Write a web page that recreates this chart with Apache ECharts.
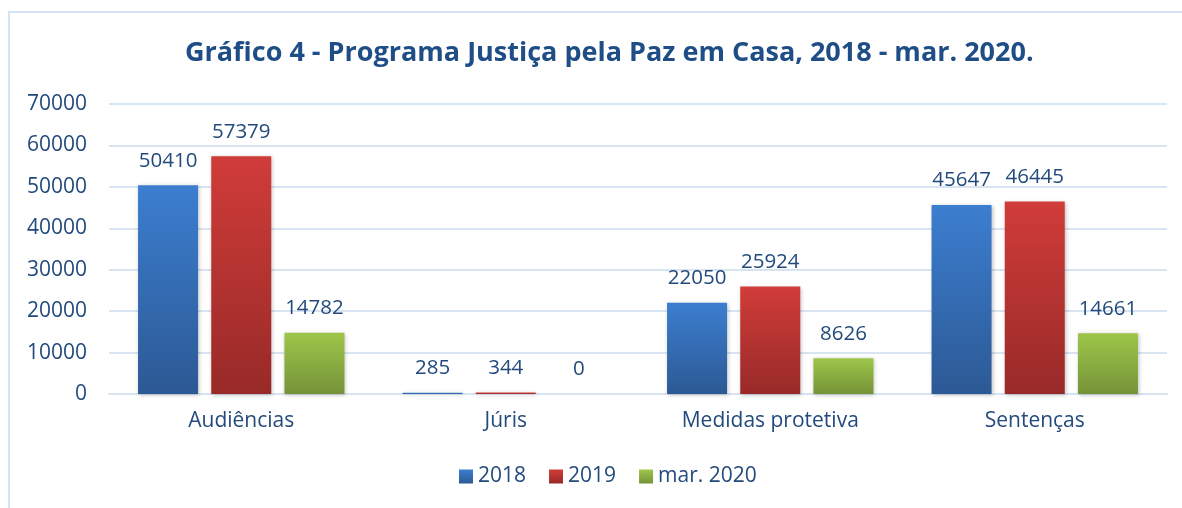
<!DOCTYPE html>
<html>
<head>
<meta charset="utf-8">
<script src="https://cdn.jsdelivr.net/npm/echarts@6/dist/echarts.min.js"></script>
<style>
  html, body { margin: 0; padding: 0; background: #fff; }
  #chart { width: 1182px; height: 508px; }
</style>
</head>
<body>
<div id="chart"></div>
<script>
const categories = ["Audiências", "Júris", "Medidas protetiva", "Sentenças"];
const seriesNames = ["2018", "2019", "mar. 2020"];
const values2018 = [50410, 285, 22050, 45647];
const values2019 = [57379, 344, 25924, 46445];
const valuesMar2020 = [14782, 0, 8626, 14661];

const textColor = "#234A7C";
const fontFamily = "'Open Sans', sans-serif";

function grad(top, bottom) {
  return new echarts.graphic.LinearGradient(0, 0, 0, 1, [
    { offset: 0, color: top },
    { offset: 1, color: bottom },
  ]);
}

const colors = [
  grad("#3C7ED0", "#2C5994"),
  grad("#D03C39", "#982A28"),
  grad("#9EC64A", "#759338"),
];

function makeSeries(name, data, color) {
  return {
    name: name,
    type: "bar",
    data: data,
    barWidth: 60,
    barGap: "22%",
    itemStyle: {
      color: color,
      shadowBlur: 4,
      shadowColor: "rgba(0,0,0,0.25)",
      shadowOffsetX: 1,
      shadowOffsetY: 1,
    },
    label: {
      show: true,
      position: "top",
      distance: 14,
      color: textColor,
      fontSize: 20.5,
      fontFamily: fontFamily,
    },
  };
}

const chart = echarts.init(document.getElementById("chart"));
chart.setOption({
  animation: false,
  backgroundColor: "#fff",
  color: colors,
  graphic: [
    {
      type: "rect",
      shape: { x: 9, y: 12, width: 1200, height: 520 },
      style: { fill: "none", stroke: "#D5E3F4", lineWidth: 2 },
      silent: true,
    },
  ],
  title: {
    text: "Gráfico 4 - Programa Justiça pela Paz em Casa, 2018 - mar. 2020.",
    left: 180,
    top: 35,
    textStyle: {
      color: "#1F4E86",
      fontSize: 27,
      fontWeight: "bold",
      fontFamily: fontFamily,
    },
  },
  legend: {
    bottom: 16,
    left: 454,
    itemWidth: 14,
    itemHeight: 14,
    itemGap: 23,
    icon: "rect",
    textStyle: { color: textColor, fontSize: 21, fontFamily: fontFamily },
    data: seriesNames,
  },
  grid: { left: 109, right: 15, top: 104, bottom: 114 },
  xAxis: {
    type: "category",
    data: categories,
    axisLine: { lineStyle: { color: "#D9E4F2", width: 2 } },
    axisTick: { show: false },
    axisLabel: {
      color: textColor,
      fontSize: 21,
      fontFamily: fontFamily,
      margin: 17,
    },
  },
  yAxis: {
    type: "value",
    min: 0,
    max: 70000,
    interval: 10000,
    axisLine: { show: false },
    axisTick: { show: false },
    axisLabel: {
      color: textColor,
      fontSize: 21,
      fontFamily: fontFamily,
      margin: 22,
      formatter: (v) => String(v),
    },
    splitLine: { lineStyle: { color: "#D9E4F2", width: 2 } },
  },
  series: [
    makeSeries(seriesNames[0], values2018, colors[0]),
    makeSeries(seriesNames[1], values2019, colors[1]),
    makeSeries(seriesNames[2], valuesMar2020, colors[2]),
  ],
});
</script>
</body>
</html>
